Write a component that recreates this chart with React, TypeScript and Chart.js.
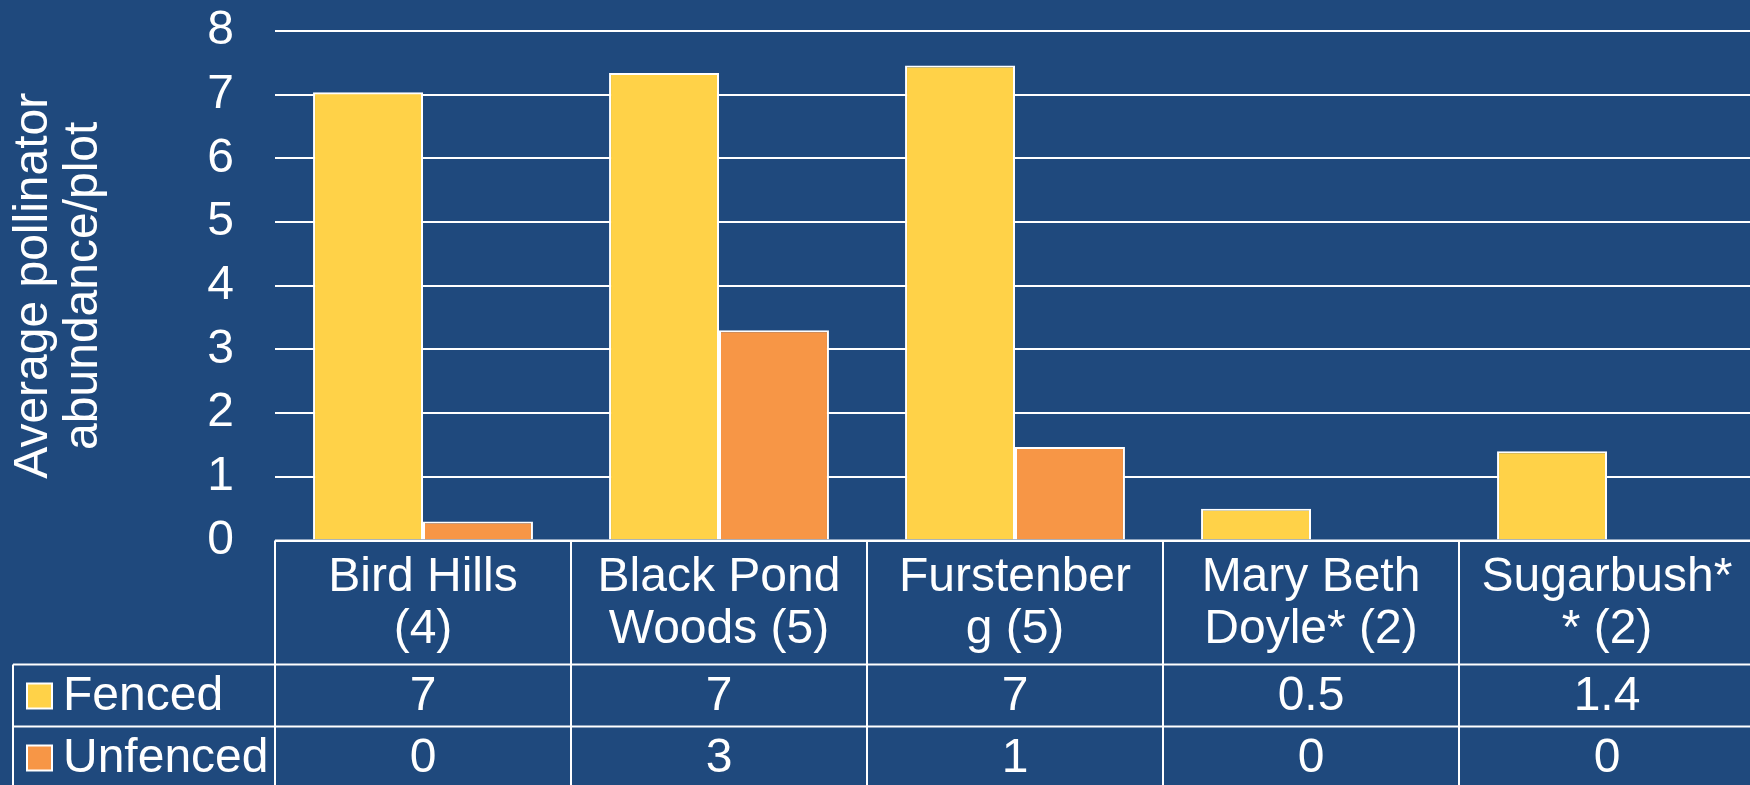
import React, { useEffect, useRef } from 'react';
import { Chart, registerables } from 'chart.js';

Chart.register(...registerables);

// ---- data ----
const categories: string[][] = [
  ['Bird Hills', '(4)'],
  ['Black Pond', 'Woods (5)'],
  ['Furstenber', 'g (5)'],
  ['Mary Beth', 'Doyle* (2)'],
  ['Sugarbush*', '* (2)'],
];
const seriesNames = ['Fenced', 'Unfenced'];
const fencedValues = [7.04, 7.34, 7.46, 0.5, 1.4];
const unfencedValues = [0.3, 3.3, 1.47, 0, 0];
const fencedTableLabels = ['7', '7', '7', '0.5', '1.4'];
const unfencedTableLabels = ['0', '3', '1', '0', '0'];
const yTitle = ['Average pollinator', 'abundance/plot'];
const yMin = 0;
const yMax = 8;
const yStep = 1;

// ---- style ----
const BG = '#1F497D';
const YELLOW = '#FFD248';
const ORANGE = '#F79646';
const WHITE = '#FFFFFF';
const FONT = '"Liberation Sans", Arial, sans-serif';
const FS = 48;

const CANVAS_W = 1760;
const CANVAS_H = 800;
const PLOT_TOP = 31;
const PLOT_BOTTOM = 540.5;
const PLOT_LEFT = 275;
const PLOT_RIGHT = 1755;
const HEADER_H = 124;
const ROW_H = 62;
const LEGEND_LEFT = 13;

const bgPlugin = {
  id: 'bg',
  beforeDraw(chart: any) {
    const ctx = chart.ctx;
    ctx.save();
    ctx.fillStyle = BG;
    ctx.fillRect(0, 0, chart.width, chart.height);
    ctx.restore();
  },
};

const tablePlugin = {
  id: 'dataTable',
  afterDraw(chart: any) {
    const ctx = chart.ctx as CanvasRenderingContext2D;
    const area = chart.chartArea;
    const xs = chart.scales.x;
    const n = categories.length;
    const colW = (area.right - area.left) / n;
    const top = area.bottom;
    const headerBottom = top + HEADER_H;
    const row1Bottom = headerBottom + ROW_H;
    const row2Bottom = row1Bottom + ROW_H;

    const line = (x1: number, y1: number, x2: number, y2: number) => {
      ctx.beginPath();
      ctx.moveTo(x1, y1);
      ctx.lineTo(x2, y2);
      ctx.stroke();
    };

    ctx.save();
    ctx.strokeStyle = WHITE;
    ctx.lineWidth = 2;
    line(area.left, top, area.right, top);
    line(LEGEND_LEFT, headerBottom, area.right, headerBottom);
    line(LEGEND_LEFT, row1Bottom, area.right, row1Bottom);
    line(LEGEND_LEFT, row2Bottom, area.right, row2Bottom);
    for (let i = 0; i <= n; i++) {
      const xb = area.left + i * colW;
      line(xb, top, xb, row2Bottom);
    }
    line(LEGEND_LEFT, headerBottom, LEGEND_LEFT, row2Bottom);

    ctx.fillStyle = WHITE;
    ctx.font = `${FS}px ${FONT}`;
    ctx.textAlign = 'center';
    ctx.textBaseline = 'middle';
    const headerMid = top + HEADER_H / 2 + 1;
    const lineGap = 52;
    categories.forEach((lines, i) => {
      const cx = xs.getPixelForValue(i);
      const start = headerMid - ((lines.length - 1) * lineGap) / 2;
      lines.forEach((t, j) => ctx.fillText(t, cx, start + j * lineGap));
      ctx.fillText(fencedTableLabels[i], cx, headerBottom + ROW_H / 2 + 1);
      ctx.fillText(unfencedTableLabels[i], cx, row1Bottom + ROW_H / 2 + 1);
    });

    // legend keys
    const colors = [YELLOW, ORANGE];
    const rowsTop = [headerBottom, row1Bottom];
    seriesNames.forEach((name, k) => {
      const cy = rowsTop[k] + ROW_H / 2;
      ctx.fillStyle = colors[k];
      ctx.fillRect(27, cy - 12, 25, 25);
      ctx.strokeStyle = WHITE;
      ctx.lineWidth = 2;
      ctx.strokeRect(27, cy - 12, 25, 25);
      ctx.fillStyle = WHITE;
      ctx.textAlign = 'left';
      ctx.fillText(name, 63, cy + 1);
    });
    ctx.restore();
  },
};

export default function App() {
  const ref = useRef<HTMLCanvasElement | null>(null);

  useEffect(() => {
    document.body.style.margin = '0';
    const canvas = ref.current!;
    const chart = new Chart(canvas, {
      type: 'bar',
      data: {
        labels: categories.map((c) => c.join(' ')),
        datasets: [
          {
            label: seriesNames[0],
            data: fencedValues,
            backgroundColor: YELLOW,
            borderColor: WHITE,
            borderWidth: 2,
            borderSkipped: 'bottom',
          },
          {
            label: seriesNames[1],
            data: unfencedValues,
            backgroundColor: ORANGE,
            borderColor: WHITE,
            borderWidth: 2,
            borderSkipped: 'bottom',
          },
        ],
      },
      options: {
        responsive: false,
        animation: false,
        devicePixelRatio: 1,
        layout: {
          padding: {
            left: 0,
            top: PLOT_TOP,
            right: CANVAS_W - PLOT_RIGHT,
            bottom: CANVAS_H - PLOT_BOTTOM,
          },
        },
        datasets: {
          bar: {
            categoryPercentage: 0.743,
            barPercentage: 1.0,
          },
        },
        plugins: {
          legend: { display: false },
          tooltip: { enabled: false },
          title: { display: false },
        },
        scales: {
          x: {
            display: false,
          },
          y: {
            min: yMin,
            max: yMax,
            ticks: {
              stepSize: yStep,
              color: WHITE,
              padding: 41,
              font: { family: FONT, size: FS },
            },
            grid: {
              color: WHITE,
              lineWidth: 2,
              drawTicks: false,
            },
            border: { display: false },
            title: {
              display: true,
              text: yTitle,
              color: WHITE,
              font: { family: FONT, size: FS, lineHeight: '50px' },
              padding: { top: 9, bottom: 0 },
            },
            afterFit(scale: any) {
              scale.width = PLOT_LEFT;
              scale.paddingTop = 0;
              scale.paddingBottom = 0;
            },
          },
        },
      },
      plugins: [bgPlugin, tablePlugin],
    });
    return () => chart.destroy();
  }, []);

  return (
    <div
      style={{
        position: 'fixed',
        left: 0,
        top: 0,
        width: 1750,
        height: 785,
        overflow: 'hidden',
        background: BG,
      }}
    >
      <canvas ref={ref} width={CANVAS_W} height={CANVAS_H} style={{ display: 'block' }} />
    </div>
  );
}
